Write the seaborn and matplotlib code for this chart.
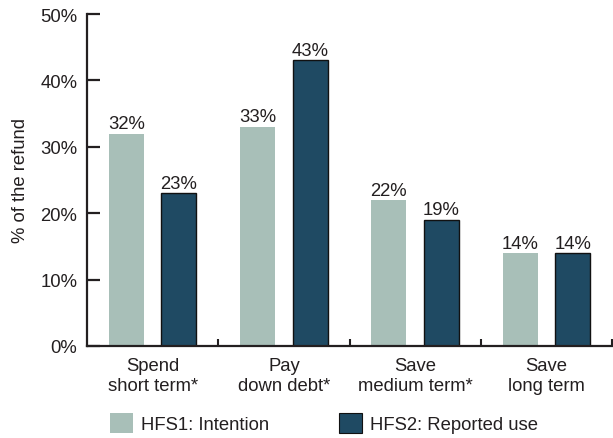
import matplotlib
matplotlib.use("Agg")
import matplotlib.pyplot as plt
import seaborn as sns
import pandas as pd
from matplotlib.patches import Patch

categories = ["Spend\nshort term*", "Pay\ndown debt*", "Save\nmedium term*", "Save\nlong term"]
series_names = ["HFS1: Intention", "HFS2: Reported use"]
intention = [32, 33, 22, 14]
reported = [23, 43, 19, 14]
y_ticks = [0, 10, 20, 30, 40, 50]

light = "#a8bfb8"
dark = "#1f4a63"
ink = "#231f20"
fs = 13.3

sns.set_style("ticks")
plt.rcParams["font.family"] = ["Liberation Sans", "DejaVu Sans"]
plt.rcParams["text.color"] = ink
plt.rcParams["axes.labelcolor"] = ink
plt.rcParams["xtick.color"] = ink
plt.rcParams["ytick.color"] = ink

df = pd.DataFrame({
    "category": categories * 2,
    "series": [series_names[0]] * 4 + [series_names[1]] * 4,
    "value": intention + reported,
})

fig = plt.figure(figsize=(6.13, 4.39), dpi=100)
ax = fig.add_axes([87 / 613, 1 - 347 / 439, (612 - 87) / 613, (347 - 15) / 439])

sns.barplot(data=df, x="category", y="value", hue="series", order=categories,
            hue_order=series_names, palette=[light, dark], width=0.8, gap=0.33,
            saturation=1, legend=False, ax=ax)

for i, cont in enumerate(ax.containers):
    for bar in cont:
        if i == 1:
            bar.set_edgecolor("#111111")
            bar.set_linewidth(1.0)
        else:
            bar.set_edgecolor("none")
    ax.bar_label(cont, fmt="{:.0f}%", padding=1, fontsize=fs, color=ink)

ax.set_xlim(-0.5, 3.5)
ax.set_ylim(0, 50)
ax.set_yticks(y_ticks)
ax.set_yticklabels([f"{v}%" for v in y_ticks], fontsize=fs)
ax.set_ylabel("% of the refund", fontsize=13.3, labelpad=8)
ax.set_xlabel("")

# category labels at centres, boundary ticks between groups
ax.set_xticks(range(len(categories)))
ax.set_xticklabels(categories, fontsize=fs, linespacing=1.2)
ax.tick_params(axis="x", length=0, pad=8)
ax.set_xticks([0.5, 1.5, 2.5, 3.5], minor=True)
ax.tick_params(axis="x", which="minor", direction="in", length=5, width=1.5)
ax.tick_params(axis="y", direction="in", length=9, width=1.6, pad=7)

for side in ["top", "right"]:
    ax.spines[side].set_visible(False)
for side in ["left", "bottom"]:
    ax.spines[side].set_linewidth(1.6)
    ax.spines[side].set_color(ink)

handles = [Patch(facecolor=light, edgecolor="none"),
           Patch(facecolor=dark, edgecolor="#111111", linewidth=0.8)]
fig.legend(handles, series_names, loc="center left",
           bbox_to_anchor=(110 / 613, 1 - 424 / 439), ncol=2, frameon=False,
           fontsize=fs, handlelength=1.25, handleheight=1.25, handletextpad=0.45,
           columnspacing=3.75, borderaxespad=0, borderpad=0)

fig.savefig("out.png", dpi=100)
